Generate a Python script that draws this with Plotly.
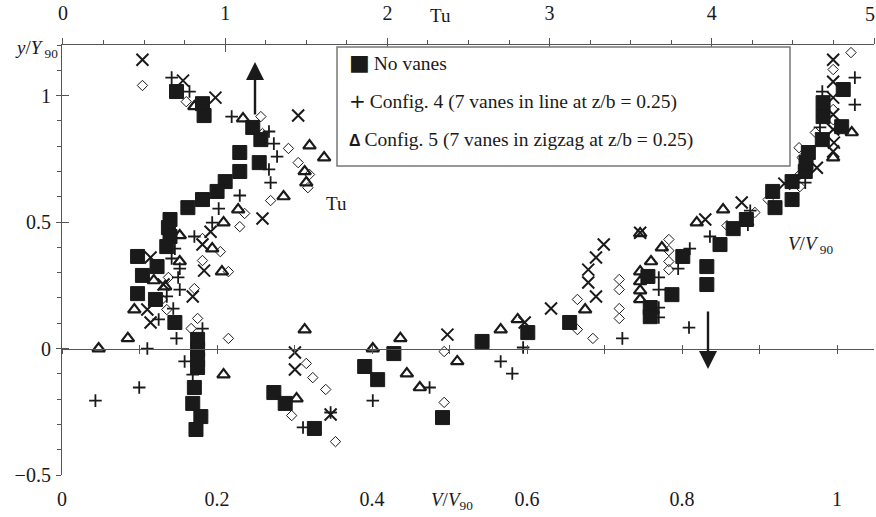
import plotly.graph_objects as go

FONT = "Liberation Serif"
INK = "#1a1a1a"
AX = "#555555"

# ---- data: Tu (top axis) and V/V90 (bottom axis) against y/Y90 ----
# No vanes (filled squares)
sq_tu_x = [0.70, 0.86, 0.87, 1.17, 1.22, 1.09, 1.21, 1.09, 1.00, 0.95, 0.86, 0.77, 0.66, 0.65, 0.66, 0.64, 0.46, 0.58,
           0.49, 0.46, 0.57, 0.69, 0.83, 0.83, 0.83, 0.83, 0.81, 0.80, 0.85, 0.82, 1.30, 1.37, 1.55, 1.86, 1.94, 2.04, 2.34]
sq_tu_y = [1.016, 0.968, 0.921, 0.874, 0.826, 0.775, 0.735, 0.700, 0.660, 0.621, 0.589, 0.557, 0.510, 0.478, 0.443,
           0.403, 0.364, 0.324, 0.289, 0.217, 0.194, 0.103, 0.036, -0.004, -0.043, -0.075, -0.154, -0.217, -0.269,
           -0.320, -0.174, -0.217, -0.316, -0.071, -0.123, -0.020, -0.273]
sq_v_x = [0.542, 0.601, 0.655, 0.756, 0.759, 0.759, 0.787, 0.801, 0.832, 0.832, 0.849, 0.866, 0.883, 0.920, 0.917,
          0.942, 0.942, 0.959, 0.960, 0.963, 0.981, 1.006, 0.982, 0.982, 1.008]
sq_v_y = [0.028, 0.063, 0.103, 0.285, 0.162, 0.126, 0.213, 0.364, 0.324, 0.253, 0.411, 0.474, 0.510, 0.557, 0.621,
          0.589, 0.660, 0.700, 0.735, 0.775, 0.826, 0.877, 0.917, 0.972, 1.024]

# Config. 4 (plus)
pl_tu_x = [0.67, 0.78, 0.86, 1.04, 1.27, 1.30, 1.32, 1.27, 1.28, 1.09, 0.96, 0.92, 0.81, 0.69, 0.67, 0.72, 0.71, 0.72,
           0.64, 0.68, 0.59, 0.86, 0.70, 0.52, 0.75, 0.80, 0.47, 0.20, 1.91, 1.48, 1.65, 2.26]
pl_tu_y = [1.071, 1.016, 0.968, 0.917, 0.858, 0.810, 0.759, 0.708, 0.656, 0.605, 0.553, 0.498, 0.443, 0.395, 0.356,
           0.316, 0.281, 0.233, 0.206, 0.158, 0.115, 0.079, 0.040, 0.0, -0.051, -0.103, -0.154, -0.206, -0.206,
           -0.312, -0.253, -0.154]
pl_v_x = [0.566, 0.581, 0.595, 0.723, 0.809, 0.770, 0.770, 0.770, 0.770, 0.795, 0.810, 0.836, 0.885, 0.888, 0.959,
          0.978, 0.981, 0.981, 1.023, 1.023]
pl_v_y = [-0.051, -0.099, 0.004, 0.040, 0.083, 0.281, 0.233, 0.162, 0.123, 0.316, 0.395, 0.443, 0.490, 0.545, 0.656,
          0.874, 1.016, 0.917, 1.071, 0.964]

# Config. 5 (open triangles)
tr_tu_x = [0.81, 1.11, 1.52, 1.61, 1.49, 1.50, 1.36, 1.08, 0.99, 0.72, 0.92, 0.72, 0.98, 0.56, 0.63, 0.44, 0.40, 0.22,
           1.49, 0.99, 1.44, 1.91, 2.08, 2.12, 2.20]
tr_tu_y = [0.957, 0.909, 0.802, 0.755, 0.700, 0.656, 0.601, 0.549, 0.498, 0.447, 0.395, 0.344, 0.304, 0.269, 0.245,
           0.154, 0.040, 0.0, 0.075, -0.103, -0.198, 0.0, 0.040, -0.099, -0.154]
tr_v_x = [0.510, 0.566, 0.588, 0.675, 0.746, 0.746, 0.746, 0.746, 0.746, 0.760, 0.774, 0.819, 0.853, 0.995, 1.019]
tr_v_y = [-0.051, 0.075, 0.115, 0.154, 0.455, 0.304, 0.265, 0.229, 0.194, 0.344, 0.399, 0.498, 0.549, 0.755, 0.854]

# Unlabelled series (crosses)
xx_tu_x = [0.49, 0.74, 0.94, 1.45, 1.23, 0.91, 0.86, 0.54, 0.87, 0.62, 0.80, 0.52, 0.54, 1.43, 1.43, 1.65, 2.37]
xx_tu_y = [1.142, 1.059, 0.992, 0.921, 0.514, 0.462, 0.411, 0.360, 0.308, 0.253, 0.206, 0.154, 0.103, -0.016, -0.083,
           -0.261, 0.055]
xx_v_x = [0.597, 0.631, 0.679, 0.679, 0.689, 0.689, 0.699, 0.746, 0.830, 0.877, 0.932, 0.974, 0.995, 0.995, 0.995,
          0.995, 0.995, 0.996, 0.995]
xx_v_y = [0.103, 0.158, 0.312, 0.261, 0.206, 0.360, 0.411, 0.458, 0.510, 0.577, 0.652, 0.715, 1.142, 1.055, 0.992,
          0.925, 0.866, 0.814, 0.779]

# Unlabelled series (open diamonds)
dm_tu_x = [0.49, 0.76, 1.22, 1.23, 1.39, 1.45, 1.52, 1.51, 1.28, 1.12, 1.09, 0.86, 0.97, 0.86, 1.02, 0.65, 0.81, 0.61,
           0.64, 0.83, 0.79, 1.02, 1.50, 1.54, 1.62, 1.41, 1.68, 2.35, 2.35]
dm_tu_y = [1.040, 0.976, 0.917, 0.850, 0.791, 0.735, 0.688, 0.636, 0.585, 0.534, 0.482, 0.435, 0.383, 0.348, 0.304,
           0.281, 0.237, 0.194, 0.154, 0.119, 0.079, 0.040, -0.059, -0.115, -0.162, -0.265, -0.368, -0.012, -0.213]
dm_v_x = [0.665, 0.665, 0.685, 0.719, 0.719, 0.719, 0.719, 0.783, 0.783, 0.783, 0.783, 0.858, 0.894, 0.911, 0.952,
          0.952, 0.951, 0.955, 0.972, 0.995, 0.995, 0.995, 1.018]
dm_v_y = [0.194, 0.075, 0.040, 0.273, 0.233, 0.158, 0.119, 0.431, 0.387, 0.344, 0.312, 0.486, 0.538, 0.589, 0.640,
          0.688, 0.794, 0.755, 0.854, 1.103, 0.945, 0.905, 1.170]

legend_labels = ["No vanes",
                 "Config. 4 (7 vanes in line at z/b = 0.25)",
                 "Config. 5 (7 vanes in zigzag at z/b = 0.25)"]
legend_symbols = ["\u25a0", "+", "\u0394"]

v_ticks = [0, 0.2, 0.4, 0.6, 0.8, 1.0]
v_ticktext = ["0", "0.2", "0.4", "0.6", "0.8", "1"]
tu_ticks = [0, 1, 2, 3, 4]
tu_ticktext = ["0", "1", "2", "3", "4"]
tu_last = 5
y_ticks = [-0.5, 0, 0.5, 1]

V_RANGE = [0, 1.0477]
TU_RANGE = [-0.006, 5.0]
Y_RANGE = [-0.5, 1.2]

markers = {
    "sq": dict(symbol="square", size=14, color=INK, line=dict(color=INK, width=1)),
    "pl": dict(symbol="cross-thin-open", size=9, color=INK, line=dict(color=INK, width=1.8)),
    "tr": dict(symbol="triangle-up-open", size=11, color=INK, line=dict(color=INK, width=2.2)),
    "xx": dict(symbol="x-thin-open", size=12, color=INK, line=dict(color=INK, width=2)),
    "dm": dict(symbol="diamond-open", size=8, color=INK, line=dict(color=INK, width=1)),
}

fig = go.Figure()


def add_series(key, tx, ty, vx, vy):
    fig.add_trace(go.Scatter(x=tx, y=ty, xaxis="x2", yaxis="y", mode="markers",
                             marker=markers[key], showlegend=False, hoverinfo="x+y"))
    fig.add_trace(go.Scatter(x=vx, y=vy, xaxis="x", yaxis="y", mode="markers",
                             marker=markers[key], showlegend=False, hoverinfo="x+y"))


add_series("dm", dm_tu_x, dm_tu_y, dm_v_x, dm_v_y)
add_series("xx", xx_tu_x, xx_tu_y, xx_v_x, xx_v_y)
add_series("tr", tr_tu_x, tr_tu_y, tr_v_x, tr_v_y)
add_series("pl", pl_tu_x, pl_tu_y, pl_v_x, pl_v_y)
add_series("sq", sq_tu_x, sq_tu_y, sq_v_x, sq_v_y)

# empty helper traces so that the decorative overlay axes get drawn
for xa, ya in [("x3", "y"), ("x4", "y"), ("x5", "y"), ("x", "y2")]:
    fig.add_trace(go.Scatter(x=[], y=[], xaxis=xa, yaxis=ya, showlegend=False, hoverinfo="skip"))

tickfont = dict(family=FONT, size=20, color=INK)
zero_pos = (0 - Y_RANGE[0]) / (Y_RANGE[1] - Y_RANGE[0])
tu_all = tu_ticks + [tu_last]

fig.update_layout(
    width=876, height=517,
    margin=dict(l=62, r=2, t=45, b=42),
    paper_bgcolor="white", plot_bgcolor="white",
    showlegend=False,
    font=dict(family=FONT, size=20, color=INK),
    xaxis=dict(range=V_RANGE, domain=[0, 1], anchor="y", tickvals=v_ticks, ticktext=v_ticktext,
               showline=False, ticks="", showgrid=False, zeroline=False, tickfont=tickfont,
               ticklabelstandoff=10, automargin=False, ticklabeloverflow="allow"),
    xaxis2=dict(range=TU_RANGE, overlaying="x", side="top", anchor="y", tickvals=tu_all,
                ticktext=tu_ticktext + [""],
                showline=True, linecolor=AX, linewidth=1.2, ticks="outside", ticklen=6, tickcolor=AX,
                tickwidth=1.2,
                minor=dict(dtick=0.25, tick0=0, ticks="outside", ticklen=4, tickcolor=AX, tickwidth=1),
                showgrid=False, zeroline=False, tickfont=tickfont, ticklabelstandoff=10, automargin=False,
                ticklabeloverflow="allow"),
    xaxis3=dict(range=V_RANGE, overlaying="x", anchor="free", position=zero_pos, showline=True,
                linecolor=AX, linewidth=1.2, ticks="outside", ticklen=4, tickcolor=AX, dtick=0.1, tick0=0,
                showticklabels=False, showgrid=False, zeroline=False),
    xaxis4=dict(range=V_RANGE, overlaying="x", anchor="free", position=zero_pos, showline=False,
                ticks="inside", ticklen=4, tickcolor=AX, dtick=0.1, tick0=0,
                showticklabels=False, showgrid=False, zeroline=False),
    xaxis5=dict(range=TU_RANGE, overlaying="x", side="top", anchor="y", tickvals=tu_all, showline=False,
                ticks="inside", ticklen=7, tickcolor=AX, tickwidth=1.2,
                showticklabels=False, showgrid=False, zeroline=False),
    yaxis=dict(range=Y_RANGE, domain=[0, 1], anchor="x", tickvals=y_ticks, showline=True, linecolor=AX,
               linewidth=1.2, ticks="outside", ticklen=5, tickcolor=AX, tickwidth=1.2,
               minor=dict(dtick=0.1, tick0=0, ticks="outside", ticklen=4, tickcolor=AX, tickwidth=1),
               showgrid=False, zeroline=False, tickfont=tickfont, ticklabelstandoff=1, automargin=False,
               ticklabeloverflow="allow"),
    yaxis2=dict(range=Y_RANGE, overlaying="y", anchor="x", side="left", tickvals=y_ticks, showline=False,
                ticks="inside", ticklen=7, tickcolor=AX, tickwidth=1.2, showticklabels=False,
                showgrid=False, zeroline=False),
)


def px_to_paper(px, py):
    return (px - 62) / 812.0, (475 - py) / 430.0


annotations = []
# last top-axis label, nudged inside the page edge
annotations.append(dict(text=str(tu_last), x=1.0, y=1.0, xref="paper", yref="paper", xanchor="right",
                        yanchor="bottom", yshift=18, xshift=3, showarrow=False,
                        font=dict(family=FONT, size=20, color=INK)))
# axis titles
x, y = px_to_paper(13, 49)
annotations.append(dict(text="<i>y</i>/<i>Y</i><sub> 90</sub>", x=x, y=y, xref="paper", yref="paper",
                        xanchor="left", yanchor="middle", showarrow=False, font=dict(family=FONT, size=19, color=INK)))
x, y = px_to_paper(440, 15)
annotations.append(dict(text="Tu", x=x, y=y, xref="paper", yref="paper", xanchor="center", yanchor="middle",
                        showarrow=False, font=dict(family=FONT, size=19, color=INK)))
x, y = px_to_paper(452, 501)
annotations.append(dict(text="<i>V</i>/<i>V</i><sub>90</sub>", x=x, y=y, xref="paper", yref="paper",
                        xanchor="center", yanchor="middle", showarrow=False,
                        font=dict(family=FONT, size=19, color=INK)))
x, y = px_to_paper(336, 203)
annotations.append(dict(text="Tu", x=x, y=y, xref="paper", yref="paper", xanchor="center", yanchor="middle",
                        showarrow=False, font=dict(family=FONT, size=19, color=INK)))
x, y = px_to_paper(810, 245)
annotations.append(dict(text="<i>V</i>/<i>V</i><sub> 90</sub>", x=x, y=y, xref="paper", yref="paper",
                        xanchor="center", yanchor="middle", showarrow=False,
                        font=dict(family=FONT, size=19, color=INK)))

# arrows (tip position, tail offset in pixels)
x1, y1 = px_to_paper(255, 62)
annotations.append(dict(text="", x=x1, y=y1, ax=0, ay=54, xref="paper", yref="paper",
                        showarrow=True, arrowhead=2, arrowsize=1.5, arrowwidth=2.4, arrowcolor=INK))
x1, y1 = px_to_paper(708, 369)
annotations.append(dict(text="", x=x1, y=y1, ax=0, ay=-59, xref="paper", yref="paper",
                        showarrow=True, arrowhead=2, arrowsize=1.5, arrowwidth=2.4, arrowcolor=INK))

# legend box
lx0, ly0 = px_to_paper(337, 166)
lx1, ly1 = px_to_paper(790, 47)
fig.add_shape(type="rect", xref="paper", yref="paper", x0=lx0, x1=lx1, y0=ly0, y1=ly1,
              line=dict(color="#777777", width=1.5), fillcolor="white", layer="above")
rows_py = [62, 101, 140]
sym_styles = ["font-family:'DejaVu Sans';font-size:22px",
              "font-family:'DejaVu Sans';font-size:20px",
              "font-family:'Liberation Sans';font-size:16px;font-weight:bold"]
for lab, sym, py, st in zip(legend_labels, legend_symbols, rows_py, sym_styles):
    x, y = px_to_paper(347, py)
    annotations.append(dict(text=f"<span style=\"{st}\">{sym}</span>\u2009{lab}", x=x, y=y, xref="paper",
                            yref="paper", xanchor="left", yanchor="middle", showarrow=False,
                            font=dict(family=FONT, size=19.5, color=INK)))

fig.update_layout(annotations=annotations)
fig.write_html("out.html", config={"displayModeBar": False},
               post_script="document.body.style.margin='0px';")
